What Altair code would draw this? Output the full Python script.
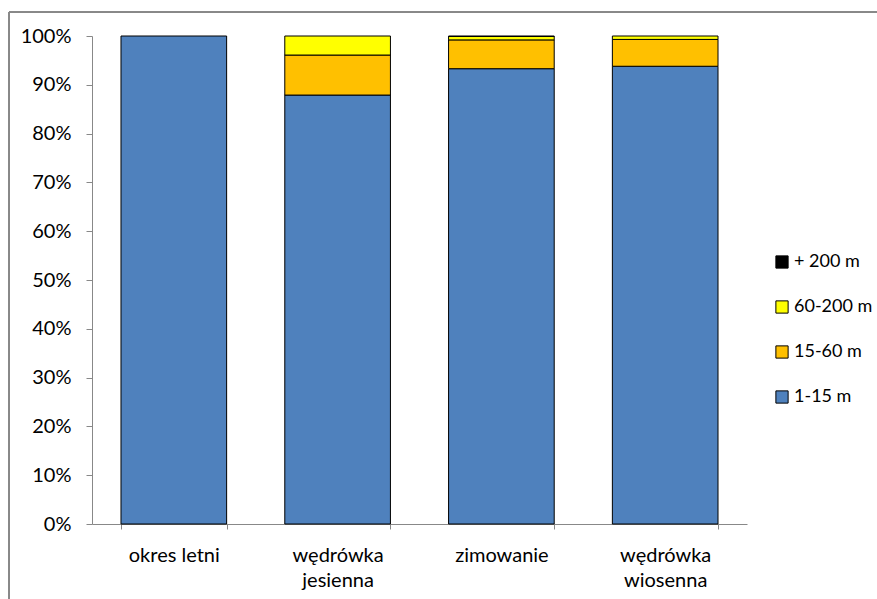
import altair as alt
import pandas as pd

categories = ["okres letni", "wędrówka jesienna", "zimowanie", "wędrówka wiosenna"]
series = ["1-15 m", "15-60 m", "60-200 m", "+ 200 m"]
colors = ["#4F81BD", "#FFC000", "#FFFF00", "#000000"]
v_1_15 = [100.0, 87.9, 93.3, 93.8]
v_15_60 = [0.0, 8.2, 5.9, 5.5]
v_60_200 = [0.0, 3.9, 0.7, 0.7]
v_200 = [0.0, 0.0, 0.1, 0.0]

rows = []
for i, c in enumerate(categories):
    for j, (s, vals) in enumerate(zip(series, [v_1_15, v_15_60, v_60_200, v_200])):
        rows.append({"cat": c, "series": s, "value": vals[i], "ord": j})
df = pd.DataFrame(rows)

FONT = "Lato"
FS = 20

bars = alt.Chart(df).mark_bar(stroke="#000000", strokeWidth=1).encode(
    x=alt.X("cat:N", sort=categories, title=None,
            scale=alt.Scale(paddingInner=0.355, paddingOuter=0.177),
            axis=alt.Axis(labelAngle=0, labelFont=FONT, labelFontSize=FS, labelColor="#000000",
                          domainColor="#888888", tickColor="#888888", tickSize=5, tickBand="extent",
                          labelPadding=16, labelLineHeight=25,
                          labelExpr="indexof(datum.label, 'wędrówka') == 0 ? split(datum.label, ' ') : datum.label")),
    y=alt.Y("value:Q", stack="normalize", title=None,
            scale=alt.Scale(domain=[0, 1]),
            axis=alt.Axis(format=".0%", values=[i / 10 for i in range(11)], grid=False,
                          labelFont=FONT, labelFontSize=FS, labelColor="#000000",
                          domainColor="#888888", tickColor="#888888", tickSize=6, labelPadding=15)),
    color=alt.Color("series:N",
                    scale=alt.Scale(domain=list(reversed(series)), range=list(reversed(colors))),
                    legend=alt.Legend(title=None, orient="none", legendX=681, legendY=217,
                                      symbolType="square", symbolSize=150, symbolStrokeColor="#000000",
                                      symbolStrokeWidth=1, labelFont=FONT, labelFontSize=18,
                                      labelColor="#000000", rowPadding=27, labelOffset=3)),
    order=alt.Order("ord:Q", sort="ascending"),
).transform_filter("datum.value > 0")

frame_left = alt.Chart(df).mark_rule(color="#888888", strokeWidth=1).encode(
    x=alt.value(-83), y=alt.value(-24), y2=alt.value(600))
frame_top = alt.Chart(df).mark_rule(color="#888888", strokeWidth=1).encode(
    x=alt.value(-83), x2=alt.value(900), y=alt.value(-24))

chart = alt.layer(bars, frame_left, frame_top).properties(
    width=655, height=488,
    padding={"left": 92, "top": 36, "right": 130, "bottom": 75},
    autosize=alt.AutoSizeParams(type="none"),
).configure_view(stroke=None)

chart.save("out.html", embed_options={"renderer": "svg", "actions": False})
